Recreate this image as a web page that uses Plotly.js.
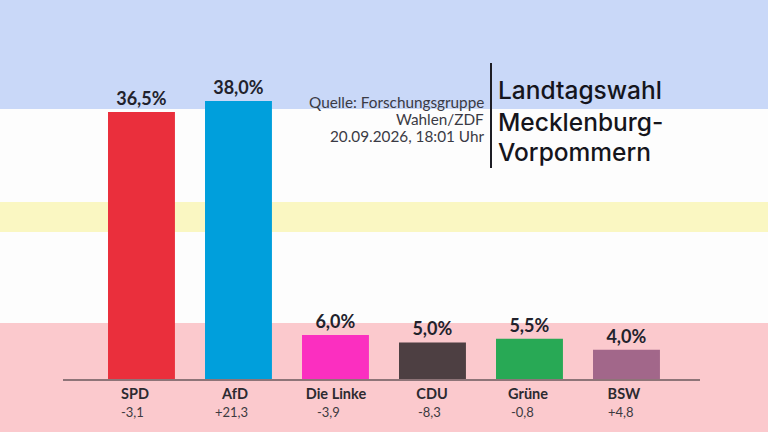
<!DOCTYPE html>
<html><head><meta charset="utf-8">
<script src="https://cdn.plot.ly/plotly-3.0.1.min.js"></script>
<style>html,body{margin:0;padding:0;background:#fff}#c{width:768px;height:432px}</style>
</head><body><div id="c"></div>
<script>
const parties = ["SPD","AfD","Die Linke","CDU","Grüne","BSW"];
const shares = [36.5,38.0,6.0,5.0,5.5,4.0];
const shareLabels = ["36,5%","38,0%","6,0%","5,0%","5,5%","4,0%"];
const changes = ["-3,1","+21,3","-3,9","-8,3","-0,8","+4,8"];
const barColors = ["#ea2f3c","#009fdc","#fb2fc0","#4d3f42","#28a955","#a2678a"];
const indices = [0,1,2,3,4,5];
const nameOffset = [-0.067,-0.036,0.005,-0.005,-0.015,-0.026];
const changeShift = [-9,-7,-7,-3,-7,-5];
const sourceLines = ["Quelle: Forschungsgruppe","Wahlen/ZDF","20.09.2026, 18:01 Uhr"];
const sourceY = [102,119,136];
const titleLines = ["Landtagswahl","Mecklenburg-","Vorpommern"];
const titleY = [90,122,152];

const F = "Lato, sans-serif";
const H = 379;
const py = p => (H-p)/H;
const band = (a,b,c)=>({type:"rect",layer:"below",xref:"paper",yref:"paper",x0:-0.2,x1:1.2,y0:py(b),y1:py(a),fillcolor:c,line:{width:0}});
const paperX = px => (px-63)/637;

const traces = [{
  type:"bar", x:indices, y:shares, width:0.69,
  marker:{color:barColors,line:{width:0}},
  text:shareLabels, textposition:"outside", cliponaxis:false,
  textfont:{family:F,size:18,color:"#22222c",weight:700},
  hoverinfo:"skip"
}];

const annotations = indices.map(i=>({
  x:i, xref:"x", y:py(411.5), yref:"paper", text:changes[i], showarrow:false,
  xshift:changeShift[i], xanchor:"center", yanchor:"middle",
  font:{family:F,size:13,color:"#3c3a40"}
}));
sourceLines.forEach((t,i)=>annotations.push({
  x:paperX(485), xref:"paper", y:py(sourceY[i]), yref:"paper", text:t, showarrow:false,
  xanchor:"right", yanchor:"middle", align:"right", borderpad:0,
  font:{family:F,size:15.3,color:"#3a3a44"}
}));
titleLines.forEach((t,i)=>annotations.push({
  x:paperX(497), xref:"paper", y:py(titleY[i]), yref:"paper", text:t, showarrow:false,
  xanchor:"left", yanchor:"middle", align:"left", borderpad:0,
  font:{family:"Inter, Lato, sans-serif",size:24.5,color:"#15151c",weight:500}
}));

const layout = {
  width:768,height:432,
  margin:{l:63,r:68,t:0,b:53,pad:0},
  paper_bgcolor:"#ffffff",plot_bgcolor:"rgba(0,0,0,0)",
  showlegend:false,
  xaxis:{range:[-0.809,5.758],tickmode:"array",
    tickvals:indices.map(i=>i+nameOffset[i]),ticktext:parties.map(p=>"<b>"+p+"</b>"),
    showgrid:false,zeroline:false,showline:true,linecolor:"#8e7478",linewidth:1.5,ticks:"",
    ticklabelstandoff:1,
    tickfont:{family:F,size:14.5,color:"#2c2a30"},fixedrange:true},
  yaxis:{range:[0,51.8],visible:false,fixedrange:true},
  shapes:[
    band(-5,109,"#c9d8f8"),
    band(109,202,"#fdfdfd"),
    band(202,232,"#faf7c2"),
    band(232,323,"#fdfdfd"),
    band(323,440,"#fbc9cd"),
    {type:"line",xref:"paper",yref:"paper",x0:paperX(491),x1:paperX(491),y0:py(168),y1:py(63),line:{color:"#1d1d24",width:2}}
  ],
  annotations
};
Plotly.newPlot("c",traces,layout,{displayModeBar:false,staticPlot:true});
</script></body></html>
